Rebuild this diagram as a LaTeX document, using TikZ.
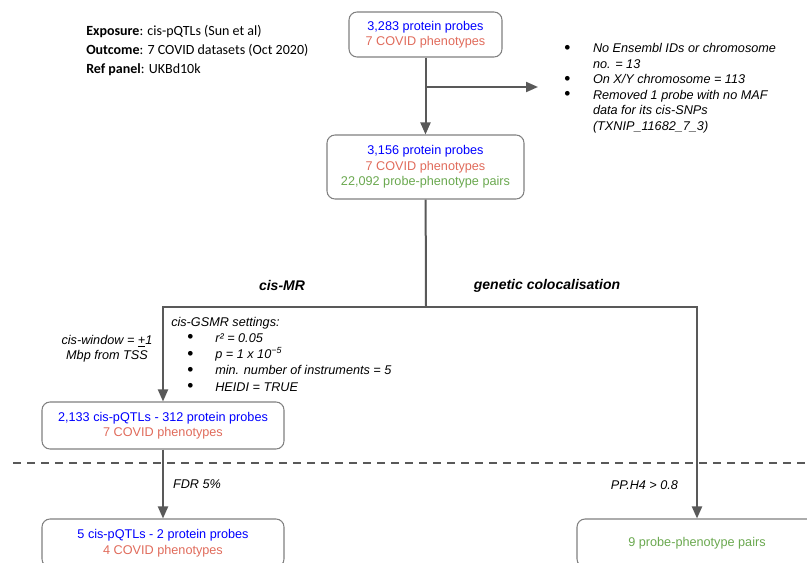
\documentclass[tikz,border=0pt]{standalone}
\usepackage{fontspec}
\setmainfont{Liberation Sans}
\newfontfamily\calibri{Carlito}
\usetikzlibrary{arrows.meta}
\definecolor{probeblue}{RGB}{0,0,255}
\definecolor{phenored}{RGB}{224,107,91}
\definecolor{pairgreen}{RGB}{106,168,79}
\definecolor{linegray}{RGB}{89,89,89}
\definecolor{boxgray}{RGB}{128,128,128}
\newcommand{\bigdot}{\raisebox{-0.4pt}{\fontsize{13}{13}\selectfont\textbullet}}
\tikzset{
  stagebox/.style={draw=boxgray, line width=0.8pt, rounded corners=6pt,
    align=center, inner sep=0pt, font=\fontsize{9.5}{11.6}\selectfont},
  link/.style={draw=linegray, line width=1.5pt},
  flow/.style={link, -{Triangle[length=9pt,width=7.5pt]}},
  divider/.style={draw=linegray, line width=1.5pt, dash pattern=on 6pt off 4.5pt},
  note/.style={inner sep=0pt, font=\fontsize{9.5}{11.6}\selectfont\itshape},
  branchtitle/.style={inner sep=0pt, font=\fontsize{10.5}{12}\selectfont\bfseries\itshape},
}

\begin{document}
\begin{tikzpicture}[x=0.75pt,y=-0.75pt]
\useasboundingbox (0,0) rectangle (807,563);
\clip (0,0) rectangle (807,563);
% study set-up
\node[anchor=west, inner sep=0pt, align=left,
  font=\calibri\fontsize{10.5}{14.25}\selectfont] (setup) at (86,50)
  {\textbf{Exposure}: cis-pQTLs (Sun et al)\\
   \textbf{Outcome}: 7 COVID datasets (Oct 2020)\\
   \textbf{Ref panel}: UKBd10k};
% stages
\node[stagebox, minimum width=114.75pt, minimum height=33.75pt] (probes) at (425.5,34.5)
  {\textcolor{probeblue}{3,283 protein probes}\\
   \textcolor{phenored}{7 COVID phenotypes}};
\node[stagebox, minimum width=147.75pt, minimum height=48pt] (filtered) at (425.5,167)
  {\textcolor{probeblue}{3,156 protein probes}\\
   \textcolor{phenored}{7 COVID phenotypes}\\
   \textcolor{pairgreen}{22,092 probe-phenotype pairs}};
\node[stagebox, minimum width=181.5pt, minimum height=35.25pt] (cismr) at (163,425.5)
  {\textcolor{probeblue}{2,133 cis-pQTLs - 312 protein probes}\\
   \textcolor{phenored}{7 COVID phenotypes}};
\node[stagebox, minimum width=181.5pt, minimum height=36pt] (fdr) at (163,543)
  {\textcolor{probeblue}{5 cis-pQTLs - 2 protein probes}\\
   \textcolor{phenored}{4 COVID phenotypes}};
\node[stagebox, minimum width=180pt, minimum height=36pt] (coloc) at (697,543)
  {\textcolor{pairgreen}{9 probe-phenotype pairs}};
% exclusions
\node[note, anchor=base west, font=\fontsize{9.5}{11.6}\selectfont] (excl) at (564,53)
  {\begin{tabular}[t]{@{}l@{\hspace{17pt}}l@{}}
   \bigdot & \itshape No Ensembl IDs or chromosome\\
           & \itshape no. = 13\\
   \bigdot & \itshape On X/Y chromosome = 113\\
   \bigdot & \itshape Removed 1 probe with no MAF\\
           & \itshape data for its cis-SNPs\\
           & \itshape (TXNIP\_11682\_7\_3)
   \end{tabular}};
% settings
\node[note, anchor=base west, font=\fontsize{9.5}{12.2}\selectfont] (gsmr) at (171,326)
  {\begin{tabular}[t]{@{\hspace{12pt}}l@{\hspace{16.5pt}}l@{}}
   \multicolumn{2}{@{}l@{}}{\itshape cis-GSMR settings:}\\
   \bigdot & \itshape r² = 0.05\\
   \bigdot & \itshape p = 1 x 10\textsuperscript{−5}\\
   \bigdot & \itshape min. number of instruments = 5\\
   \bigdot & \itshape HEIDI = TRUE
   \end{tabular}};
\node[note, align=center] (window) at (107,348.5)
  {cis-window = \underline{+}1\\ Mbp from TSS};
\node[branchtitle] (mrtitle) at (282,285) {cis-MR};
\node[branchtitle] (coloctitle) at (547,286) {genetic colocalisation};
\node[note] (fdrlabel) at (197,484) {FDR 5\%};
\node[note] (pplabel) at (644.5,485) {PP.H4 > 0.8};
% connectors
\coordinate (branch) at (426,87);
\coordinate (exclTip) at (538,87);
\coordinate (split) at (426,307);
\coordinate (dashL) at (13,463);
\coordinate (dashR) at (807,463);
\draw[divider] (dashL) -- (dashR);
\draw[flow] (probes) -- (filtered);
\draw[flow] (branch) -- (exclTip);
\draw[link] (filtered) -- (split);
\draw[flow] (split) -| (cismr);
\draw[flow] (split) -| (coloc);
\draw[flow] (cismr) -- (fdr);
\end{tikzpicture}
\end{document}
